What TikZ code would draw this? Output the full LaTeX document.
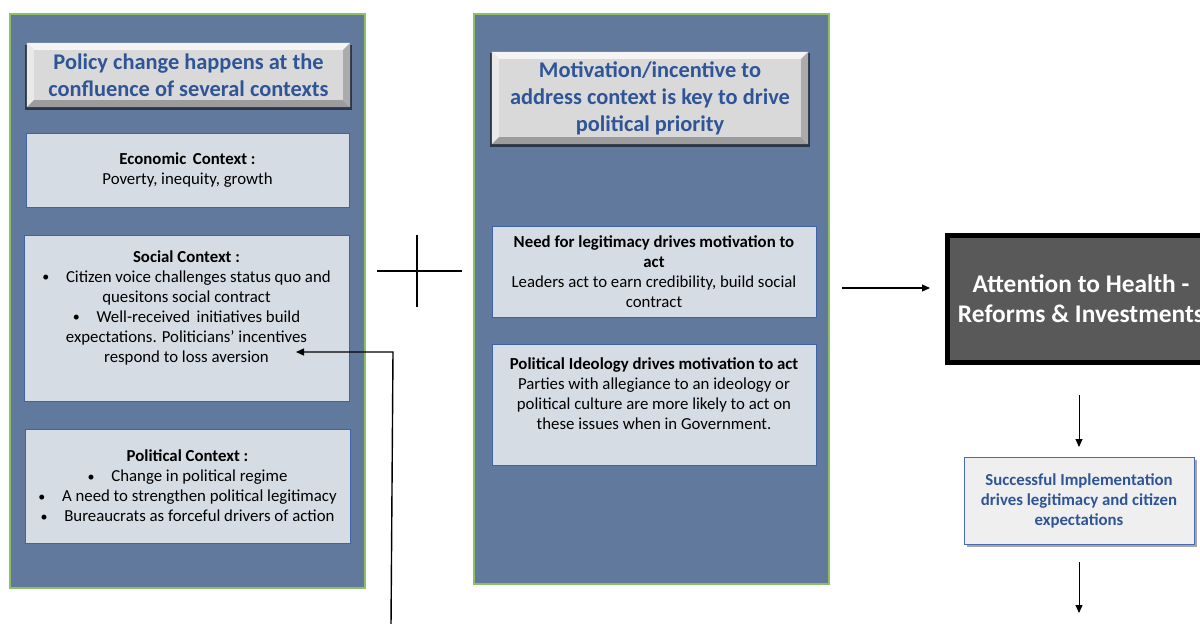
\documentclass[tikz,border=0pt]{standalone}
\usepackage{fontspec}
\setmainfont{Carlito}
\usetikzlibrary{arrows.meta,shadows,calc}

\definecolor{panel}{HTML}{60799C}
\definecolor{panelline}{HTML}{8CC063}
\definecolor{cardfill}{HTML}{D6DCE4}
\definecolor{cardline}{HTML}{3F63A8}
\definecolor{titleblue}{HTML}{2F5597}
\definecolor{bevface}{HTML}{D9D9D9}
\definecolor{bevtop}{HTML}{F4F4F4}
\definecolor{bevleft}{HTML}{E9E9E9}
\definecolor{bevbottom}{HTML}{9C9C9C}
\definecolor{bevright}{HTML}{ABABAB}
\definecolor{attnfill}{HTML}{595959}
\definecolor{implfill}{HTML}{EFEFEF}
\definecolor{implline}{HTML}{4A6BAE}

% raised rim around a named title node
\newcommand\bevelrim[2]{%
  \fill[bevtop] (#1.north west) -- (#1.north east) -- ([shift={(-#2,-#2)}]#1.north east) -- ([shift={(#2,-#2)}]#1.north west) -- cycle;
  \fill[bevleft] (#1.north west) -- (#1.south west) -- ([shift={(#2,#2)}]#1.south west) -- ([shift={(#2,-#2)}]#1.north west) -- cycle;
  \fill[bevbottom] (#1.south west) -- (#1.south east) -- ([shift={(-#2,#2)}]#1.south east) -- ([shift={(#2,#2)}]#1.south west) -- cycle;
  \fill[bevright] (#1.north east) -- (#1.south east) -- ([shift={(-#2,#2)}]#1.south east) -- ([shift={(-#2,-#2)}]#1.north east) -- cycle;
}
\newcommand\blt{\raisebox{0.8pt}{\fontsize{14}{14}\selectfont•}\quad}

\tikzset{
  panelbox/.style={draw=panelline, line width=1.2pt, fill=panel, inner sep=0pt},
  titlebox/.style={fill=bevface, inner sep=0pt, align=center, text=titleblue,
    font=\fontsize{22.4}{27}\selectfont\bfseries,
    general shadow={fill=black, opacity=.55, shadow scale=1.015, shadow xshift=0pt, shadow yshift=-2pt}},
  card/.style={draw=cardline, line width=0.8pt, fill=cardfill, inner sep=0pt},
  body/.style={font=\fontsize{16.8}{20}\selectfont, align=center, text=black, inner sep=0pt},
  attnbox/.style={draw=black, line width=5pt, fill=attnfill, inner sep=0pt, align=center,
    text=white, font=\fontsize{25.4}{30}\selectfont\bfseries},
  implbox/.style={draw=implline, line width=1pt, fill=implfill, inner sep=0pt, align=center,
    text=titleblue, font=\fontsize{16.8}{20}\selectfont\bfseries,
    drop shadow={fill=black, opacity=.35, shadow xshift=3pt, shadow yshift=-3pt}},
  arr/.style={line width=1.2pt, -{Triangle[length=8pt,width=7pt]}},
  plusline/.style={line width=1.6pt},
}

\begin{document}
\begin{tikzpicture}[x=1pt,y=-1pt]
\useasboundingbox (0,0) rectangle (1200,624);
\clip (0,0) rectangle (1200,624);
\fill[white] (0,0) rectangle (1200,624);

% left column: contexts
\node[panelbox, minimum width=355pt, minimum height=574pt] (leftpanel) at (187.5,301) {};
\node[titlebox, minimum width=323pt, minimum height=64pt] (lefttitle) at (188.5,75)
  {Policy change happens at the\\confluence of several contexts};
\bevelrim{lefttitle}{7pt}

\node[card, minimum width=323pt, minimum height=74pt] (econ) at (187.5,170) {};
\node[body] (econtxt) at (econ.center) {\textbf{Economic\, Context :}\\Poverty, inequity, growth};

\node[card, minimum width=325pt, minimum height=166pt] (social) at (186.5,318) {};
\node[body] (socialtxt) at (186.5,308)
  {\textbf{Social Context :}\\
   \blt Citizen voice challenges status quo and\\
   quesitons social contract\\
   \blt Well-received\, initiatives build\\
   expectations. Politicians’ incentives\\
   respond to loss aversion};

\node[card, minimum width=325pt, minimum height=114pt] (political) at (187.5,486) {};
\node[body] (politicaltxt) at (political.center)
  {\textbf{Political Context :}\\
   \blt Change in political regime\\
   \blt A need to strengthen political legitimacy\\
   \blt Bureaucrats as forceful drivers of action};

% middle column: motivation
\node[panelbox, minimum width=355pt, minimum height=570pt] (midpanel) at (651.5,299) {};
\node[titlebox, minimum width=316pt, minimum height=92pt] (midtitle) at (650,98)
  {Motivation/incentive to\\address context is key to drive\\political priority};
\bevelrim{midtitle}{7pt}

\node[card, minimum width=324pt, minimum height=91pt] (need) at (654,271.5) {};
\node[body] (needtxt) at (need.center)
  {\textbf{Need for legitimacy drives motivation to}\\
   \textbf{act}\\
   Leaders act to earn credibility, build social\\
   contract};

\node[card, minimum width=324pt, minimum height=121pt] (ideology) at (654,404.5) {};
\node[body] (ideologytxt) at (654,394)
  {\textbf{Political Ideology drives motivation to act}\\
   Parties with allegiance to an ideology or\\
   political culture are more likely to act on\\
   these issues when in Government.};

% right column: outcome
\node[attnbox, minimum width=267pt, minimum height=127pt] (attn) at (1081,299)
  {Attention to Health -\\Reforms \& Investments};
\node[implbox, minimum width=230pt, minimum height=87pt] (impl) at (1079,500.5)
  {Successful Implementation\\drives legitimacy and citizen\\expectations};

% plus sign between the columns
\coordinate (plusW) at (377,271);
\coordinate (plusE) at (462,271);
\coordinate (plusN) at (417,235);
\coordinate (plusS) at (417,307);
\draw[plusline] (plusW) -- (plusE);
\draw[plusline] (plusN) -- (plusS);

% connectors
\coordinate (toattnA) at (842,288);
\coordinate (toattnB) at (930,288);
\draw[arr] (toattnA) -- (toattnB);

\coordinate (down1A) at (1079,395);
\coordinate (down1B) at (1079,447);
\draw[arr, line width=0.9pt] (down1A) -- (down1B);

\coordinate (down2A) at (1079,562);
\coordinate (down2B) at (1079,613);
\draw[arr, line width=0.9pt] (down2A) -- (down2B);

\coordinate (loopBottom) at (391,626);
\coordinate (loopCorner) at (393,352);
\coordinate (loopTip) at (296,352);
\draw[arr, line width=1.4pt] (loopBottom) -- (loopCorner) -- (loopTip);
\end{tikzpicture}
\end{document}
